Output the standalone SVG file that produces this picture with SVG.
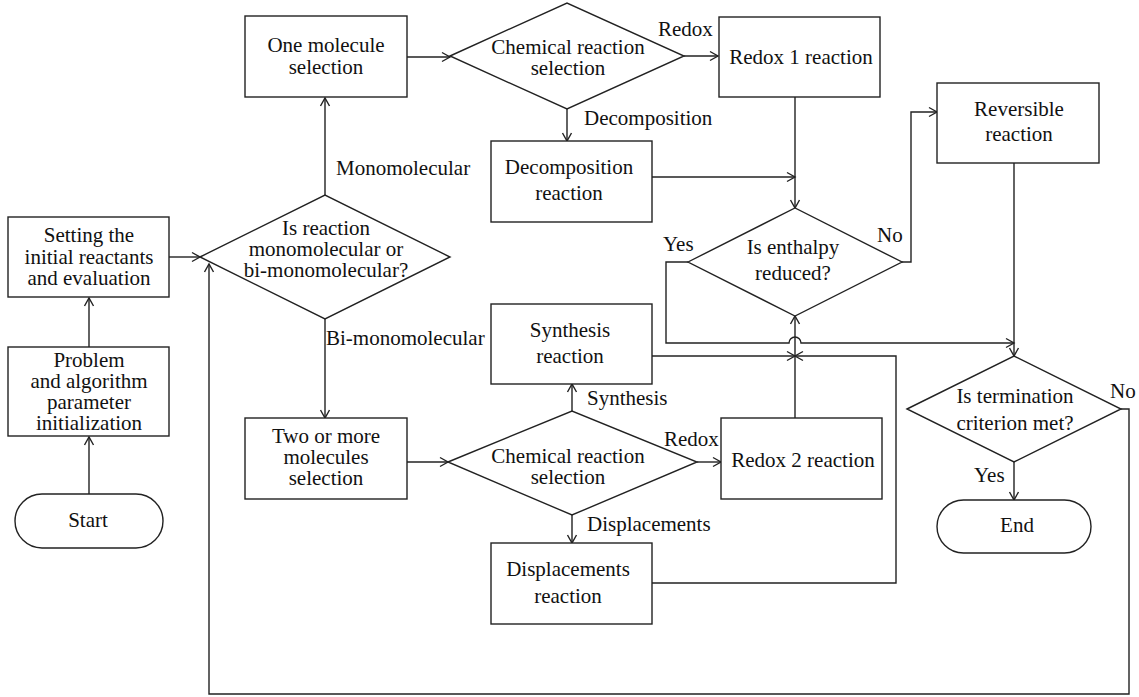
<svg xmlns="http://www.w3.org/2000/svg" width="1139" height="697" viewBox="0 0 1139 697">
<style>
.n{fill:#fff;stroke:#222;stroke-width:1.4}
.c{fill:none;stroke:#222;stroke-width:1.4}
text{font-family:"Liberation Serif","Times New Roman",serif;font-size:21px;fill:#111}
.m{text-anchor:middle}
</style>
<defs>
<marker id="arr" markerUnits="userSpaceOnUse" markerWidth="12" markerHeight="12" viewBox="0 0 12 12" refX="10" refY="6" orient="auto">
<path d="M2,1.5 L10,6 L2,10.5" fill="none" stroke="#222" stroke-width="1.4"/>
</marker>
</defs>
<rect width="1139" height="697" fill="#fff"/>
<g id="connectors">
<path class="c" d="M89,494 V437" marker-end="url(#arr)"/>
<path class="c" d="M89,347 V298" marker-end="url(#arr)"/>
<path class="c" d="M169,257 H200" marker-end="url(#arr)"/>
<path class="c" d="M325,195 V98" marker-end="url(#arr)"/>
<path class="c" d="M407,57 H450" marker-end="url(#arr)"/>
<path class="c" d="M684,56 H718" marker-end="url(#arr)"/>
<path class="c" d="M567,109 V141" marker-end="url(#arr)"/>
<path class="c" d="M652,177 H795" marker-end="url(#arr)"/>
<path class="c" d="M795,97 V208" marker-end="url(#arr)"/>
<path class="c" d="M902,262 H911 V112 H937" marker-end="url(#arr)"/>
<path class="c" d="M688,262 H666 V343 H789 A6,6 0 0 1 801,343 H1014" marker-end="url(#arr)"/>
<path class="c" d="M1014,163 V356" marker-end="url(#arr)"/>
<path class="c" d="M325,319 V418" marker-end="url(#arr)"/>
<path class="c" d="M407,462 H448" marker-end="url(#arr)"/>
<path class="c" d="M572,411 V384" marker-end="url(#arr)"/>
<path class="c" d="M697,462 H721" marker-end="url(#arr)"/>
<path class="c" d="M572,515 V543" marker-end="url(#arr)"/>
<path class="c" d="M652,356 H795" marker-end="url(#arr)"/>
<path class="c" d="M652,583 H896 V356 H795" marker-end="url(#arr)"/>
<path class="c" d="M795,418 V316" marker-end="url(#arr)"/>
<path class="c" d="M1014,462 V500" marker-end="url(#arr)"/>
<path class="c" d="M1121,409 H1129 V694 H209 V264" marker-end="url(#arr)"/>
</g>
<g id="labels">
<text x="336" y="175">Monomolecular</text>
<text x="326" y="345">Bi-monomolecular</text>
<text x="658" y="36">Redox</text>
<text x="584" y="125">Decomposition</text>
<text x="877" y="242">No</text>
<text x="663" y="251">Yes</text>
<text x="587" y="405">Synthesis</text>
<text x="664" y="446">Redox</text>
<text x="587" y="531">Displacements</text>
<text x="1110" y="398">No</text>
<text x="974" y="482">Yes</text>
</g>
<g id="start">
<rect class="n" x="15" y="494" width="148" height="54" rx="27"/>
<text class="m" x="88" y="527">Start</text>
</g>
<g id="problem">
<rect class="n" x="8" y="347" width="161" height="89"/>
<text class="m" x="89" y="367">Problem</text>
<text class="m" x="89" y="388">and algorithm</text>
<text class="m" x="89" y="409">parameter</text>
<text class="m" x="89" y="430">initialization</text>
</g>
<g id="setting">
<rect class="n" x="8" y="217" width="161" height="80"/>
<text class="m" x="89" y="242">Setting the</text>
<text class="m" x="89" y="264">initial reactants</text>
<text class="m" x="89" y="285">and evaluation</text>
</g>
<g id="isReaction">
<polygon class="n" points="200,257 325,195 450,257 325,319"/>
<text class="m" x="326" y="235">Is reaction</text>
<text class="m" x="326" y="256">monomolecular or</text>
<text class="m" x="326" y="277">bi-monomolecular?</text>
</g>
<g id="oneMolecule">
<rect class="n" x="245" y="16" width="162" height="81"/>
<text class="m" x="326" y="52">One molecule</text>
<text class="m" x="326" y="74">selection</text>
</g>
<g id="chem1">
<polygon class="n" points="450,56 567,3 684,56 567,109"/>
<text class="m" x="568" y="54">Chemical reaction</text>
<text class="m" x="568" y="75">selection</text>
</g>
<g id="redox1">
<rect class="n" x="719" y="17" width="161" height="80"/>
<text class="m" x="801" y="64">Redox 1 reaction</text>
</g>
<g id="decomposition">
<rect class="n" x="491" y="141" width="161" height="81"/>
<text class="m" x="569" y="174">Decomposition</text>
<text class="m" x="569" y="200">reaction</text>
</g>
<g id="enthalpy">
<polygon class="n" points="688,262 795,208 902,262 795,316"/>
<text class="m" x="793" y="254">Is enthalpy</text>
<text class="m" x="793" y="280">reduced?</text>
</g>
<g id="reversible">
<rect class="n" x="937" y="83" width="162" height="80"/>
<text class="m" x="1019" y="116">Reversible</text>
<text class="m" x="1019" y="141">reaction</text>
</g>
<g id="synthesis">
<rect class="n" x="491" y="304" width="161" height="80"/>
<text class="m" x="570" y="337">Synthesis</text>
<text class="m" x="570" y="363">reaction</text>
</g>
<g id="twoMolecules">
<rect class="n" x="245" y="418" width="162" height="81"/>
<text class="m" x="326" y="443">Two or more</text>
<text class="m" x="326" y="464">molecules</text>
<text class="m" x="326" y="485">selection</text>
</g>
<g id="chem2">
<polygon class="n" points="448,462 572,411 697,462 572,515"/>
<text class="m" x="568" y="463">Chemical reaction</text>
<text class="m" x="568" y="484">selection</text>
</g>
<g id="redox2">
<rect class="n" x="721" y="418" width="161" height="81"/>
<text class="m" x="803" y="467">Redox 2 reaction</text>
</g>
<g id="displacements">
<rect class="n" x="491" y="543" width="161" height="81"/>
<text class="m" x="568" y="576">Displacements</text>
<text class="m" x="568" y="603">reaction</text>
</g>
<g id="termination">
<polygon class="n" points="907,409 1014,356 1121,409 1014,462"/>
<text class="m" x="1015" y="403">Is termination</text>
<text class="m" x="1015" y="430">criterion met?</text>
</g>
<g id="end">
<rect class="n" x="937" y="500" width="154" height="53" rx="26.5"/>
<text class="m" x="1017" y="532">End</text>
</g>
</svg>
